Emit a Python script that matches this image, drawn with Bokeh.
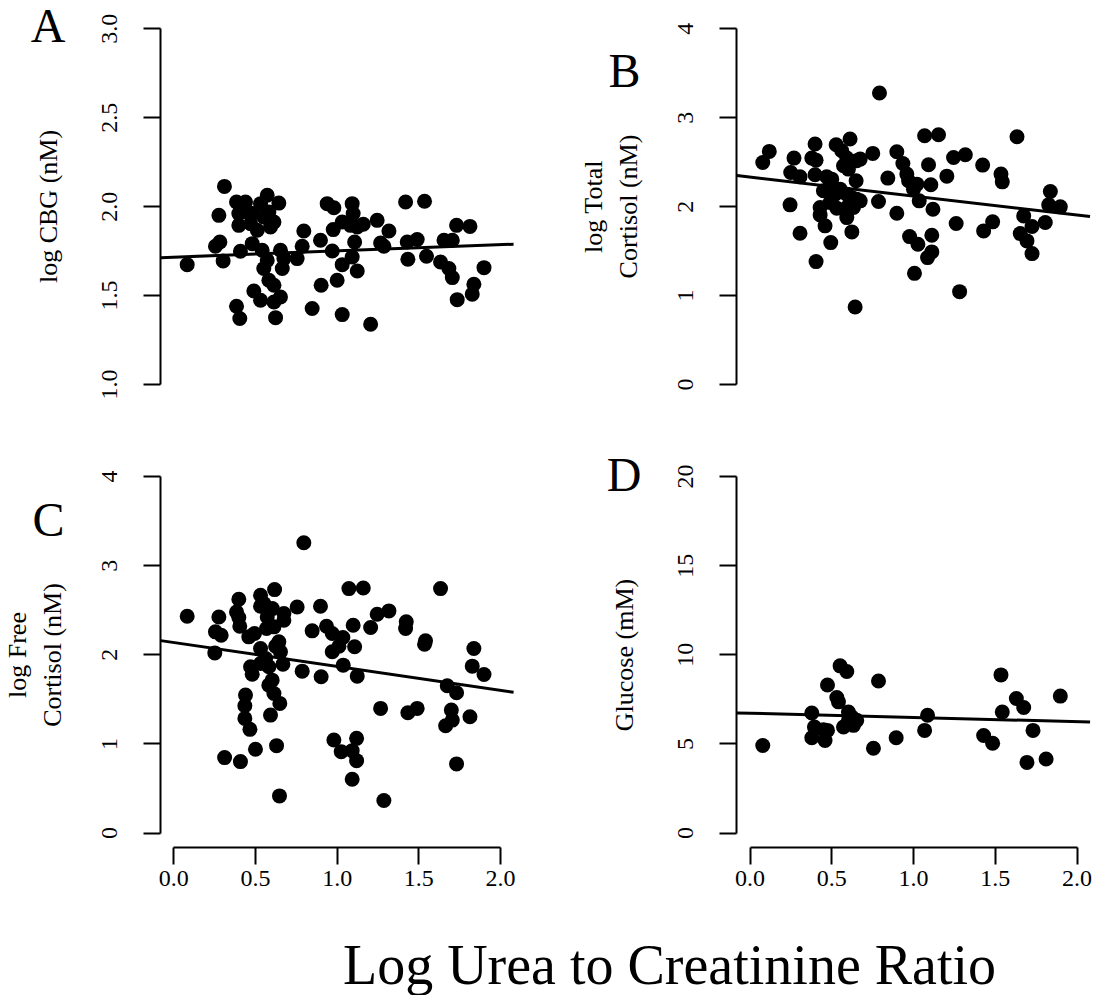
from bokeh.plotting import figure
from bokeh.models import Range1d, FixedTicker, Label, LinearAxis
from bokeh.embed import file_html
from bokeh.resources import INLINE

FONT = "Liberation Serif"

# ---------------- data ----------------
x_ticks = [0.0, 0.5, 1.0, 1.5, 2.0]
x_tick_labels = ["0.0", "0.5", "1.0", "1.5", "2.0"]
x_title = "Log Urea to Creatinine Ratio"

# Panel A: log CBG (nM)
a_x = [0.310, 0.276, 0.255, 0.282, 0.082, 0.302, 0.408, 0.384, 0.439, 0.398,
       0.449, 0.398, 0.470, 0.480, 0.572, 0.531, 0.643, 0.582, 0.613, 0.511,
       0.592, 0.551, 0.480, 0.541, 0.572, 0.551, 0.653, 0.674, 0.664, 0.582,
       0.613, 0.490, 0.531, 0.613, 0.653, 0.384, 0.404, 0.623, 0.796, 0.786,
       0.755, 0.898, 0.970, 0.847, 0.902, 1.000, 1.031, 1.031, 0.939, 0.980,
       1.092, 1.098, 1.031, 0.976, 1.082, 1.123, 1.160, 1.107, 1.092, 1.123,
       1.245, 1.317, 1.266, 1.286, 1.205, 1.419, 1.535, 1.429, 1.490, 1.433,
       1.547, 1.654, 1.705, 1.633, 1.684, 1.705, 1.731, 1.813, 1.735, 1.837,
       1.827, 1.899]
a_y = [2.114, 1.951, 1.777, 1.801, 1.674, 1.695, 1.749, 2.026, 2.026, 1.961,
       1.970, 1.895, 1.904, 1.961, 2.064, 2.017, 2.020, 1.970, 1.914, 1.867,
       1.886, 1.942, 1.792, 1.755, 1.698, 1.652, 1.755, 1.708, 1.652, 1.586,
       1.558, 1.526, 1.474, 1.464, 1.492, 1.440, 1.371, 1.376, 1.863, 1.777,
       1.708, 1.811, 1.751, 1.427, 1.558, 1.586, 1.674, 1.393, 2.017, 1.994,
       2.017, 1.961, 1.914, 1.871, 1.895, 1.886, 1.901, 1.801, 1.717, 1.638,
       1.923, 1.863, 1.796, 1.777, 1.339, 2.026, 2.030, 1.801, 1.815, 1.704,
       1.721, 1.811, 1.811, 1.689, 1.652, 1.601, 1.895, 1.889, 1.477, 1.564,
       1.508, 1.657]
a_fit = [1.716, 0.035]   # intercept, slope
a_ticks = [1.0, 1.5, 2.0, 2.5, 3.0]
a_tick_labels = ["1.0", "1.5", "2.0", "2.5", "3.0"]
a_label = "log CBG (nM)"

# Panel B: log Total Cortisol (nM)
b_x = [0.792, 0.078, 0.118, 0.269, 0.249, 0.306, 0.245, 0.306, 0.404, 0.398,
       0.378, 0.404, 0.398, 0.469, 0.500, 0.527, 0.561, 0.612, 0.592, 0.653,
       0.674, 0.572, 0.602, 0.649, 0.449, 0.490, 0.521, 0.551, 0.592, 0.623,
       0.653, 0.674, 0.429, 0.490, 0.531, 0.602, 0.633, 0.429, 0.592, 0.459,
       0.494, 0.623, 0.751, 0.786, 0.843, 0.898, 0.935, 0.959, 0.970, 1.021,
       1.000, 1.035, 0.898, 0.976, 1.027, 1.006, 1.068, 1.153, 1.092, 1.106,
       1.119, 1.112, 1.112, 1.086, 1.204, 1.245, 1.317, 1.261, 1.282, 1.423,
       1.429, 1.484, 1.535, 1.543, 1.633, 1.674, 1.725, 1.653, 1.694, 1.725,
       1.806, 1.837, 1.827, 1.898, 0.643]
b_y = [3.278, 2.497, 2.621, 2.546, 2.384, 2.336, 2.020, 1.701, 1.382, 2.704,
       2.546, 2.523, 2.358, 2.336, 2.309, 2.696, 2.629, 2.760, 2.546, 2.516,
       2.535, 2.460, 2.422, 2.291, 2.178, 2.234, 2.140, 2.197, 2.140, 2.103,
       2.084, 2.065, 1.990, 2.046, 1.983, 2.009, 1.990, 1.907, 1.877, 1.784,
       1.596, 1.716, 2.599, 2.058, 2.321, 2.617, 2.486, 2.366, 2.291, 2.253,
       2.197, 2.065, 1.926, 1.663, 1.577, 1.250, 2.798, 2.809, 2.471, 2.246,
       1.971, 1.678, 1.491, 1.427, 2.343, 2.553, 2.584, 1.810, 1.044, 2.467,
       1.727, 1.829, 2.366, 2.279, 2.786, 1.896, 1.776, 1.697, 1.615, 1.472,
       1.821, 2.170, 2.020, 1.998, 0.871]
b_fit = [2.332, -0.213]
b_ticks = [0, 1, 2, 3, 4]
b_tick_labels = ["0", "1", "2", "3", "4"]
b_label = "log Total\nCortisol (nM)"

# Panel C: log Free Cortisol (nM)
c_x = [0.796, 0.082, 0.276, 0.255, 0.290, 0.251, 0.398, 0.384, 0.398, 0.404,
       0.459, 0.494, 0.531, 0.551, 0.531, 0.617, 0.572, 0.603, 0.568, 0.613,
       0.674, 0.674, 0.531, 0.643, 0.653, 0.623, 0.562, 0.531, 0.470, 0.480,
       0.582, 0.668, 0.602, 0.582, 0.613, 0.649, 0.439, 0.435, 0.435, 0.466,
       0.592, 0.500, 0.311, 0.408, 0.629, 0.647, 0.755, 0.898, 0.847, 0.935,
       0.970, 1.035, 1.011, 0.970, 1.107, 0.786, 0.902, 1.037, 1.123, 1.098,
       1.205, 1.245, 1.317, 1.072, 1.160, 1.423, 1.419, 1.541, 1.535, 1.633,
       1.266, 1.433, 1.490, 0.980, 1.025, 1.092, 1.119, 1.119, 1.092, 1.286,
       1.674, 1.731, 1.699, 1.705, 1.664, 1.813, 1.731, 1.837, 1.827, 1.899]
c_y = [3.257, 2.432, 2.424, 2.257, 2.219, 2.021, 2.622, 2.480, 2.417, 2.320,
       2.201, 2.238, 2.667, 2.574, 2.544, 2.731, 2.424, 2.518, 2.294, 2.313,
       2.462, 2.387, 2.070, 2.145, 2.033, 2.096, 1.958, 1.902, 1.865, 1.782,
       1.865, 1.894, 1.715, 1.659, 1.566, 1.454, 1.547, 1.428, 1.286, 1.163,
       1.323, 0.939, 0.846, 0.801, 0.980, 0.416, 2.536, 2.544, 2.268, 2.320,
       2.238, 2.193, 2.096, 2.033, 2.089, 1.816, 1.753, 1.883, 1.760, 2.331,
       2.305, 2.454, 2.492, 2.742, 2.749, 2.369, 2.294, 2.156, 2.118, 2.742,
       1.398, 1.349, 1.398, 1.043, 0.913, 0.924, 1.062, 0.812, 0.603, 0.364,
       1.652, 1.573, 1.379, 1.267, 1.204, 1.305, 0.775, 2.070, 1.872, 1.779]
c_fit = [2.137, -0.268]
c_ticks = [0, 1, 2, 3, 4]
c_tick_labels = ["0", "1", "2", "3", "4"]
c_label = "log Free\nCortisol (nM)"

# Panel D: Glucose (mM)
d_x = [0.078, 0.378, 0.394, 0.449, 0.474, 0.378, 0.459, 0.474, 0.551, 0.592,
       0.531, 0.541, 0.602, 0.623, 0.653, 0.572, 0.633, 0.602, 0.786, 0.755,
       0.894, 1.086, 1.068, 1.429, 1.484, 1.535, 1.543, 1.629, 1.674, 1.731,
       1.694, 1.811, 1.898]
d_y = [4.906, 6.736, 5.943, 5.792, 5.755, 5.340, 5.189, 8.302, 9.377, 9.057,
       7.604, 7.358, 6.792, 6.509, 6.321, 5.943, 6.038, 6.321, 8.528, 4.755,
       5.340, 6.604, 5.755, 5.472, 5.038, 8.868, 6.792, 7.547, 7.038, 5.755,
       3.962, 4.151, 7.679]
d_fit = [6.719, -0.237]
d_ticks = [0, 5, 10, 15, 20]
d_tick_labels = ["0", "5", "10", "15", "20"]
d_label = "Glucose (mM)"

# ---------------- page layout (pixels) ----------------
W, H = 1099, 995
COL_LEFT = (173.3, 500.0)     # pixel x of first / last x tick
COL_RIGHT = (749.5, 1076.5)
ROW_TOP = (28.3, 384.0)       # pixel y of top / bottom y tick
ROW_BOTTOM = (476.0, 832.5)

p = figure(width=W, height=H, x_range=Range1d(0, W), y_range=Range1d(H, 0),
           output_backend="svg", toolbar_location=None,
           x_axis_location=None, y_axis_location=None)
p.min_border = 0
p.min_border_left = 0
p.min_border_right = 0
p.min_border_top = 0
p.min_border_bottom = 0
p.outline_line_color = None
p.grid.visible = False
p.background_fill_color = "white"
p.border_fill_color = "white"


def pad(lo, hi):
    d = (hi - lo) * 0.04
    return lo - d, hi + d


def style_axis(ax):
    ax.axis_line_width = 2
    ax.axis_line_color = "black"
    ax.major_tick_line_width = 2
    ax.major_tick_line_color = "black"
    ax.major_tick_out = 17
    ax.major_tick_in = 0
    ax.minor_tick_line_color = None
    ax.major_label_text_font = FONT
    ax.major_label_text_font_size = "24px"
    ax.major_label_text_color = "black"
    ax.axis_label_text_font = FONT
    ax.axis_label_text_font_style = "normal"
    ax.axis_label_text_font_size = "26px"
    ax.axis_label_text_color = "black"


extra_x, extra_y = {}, {}
panels = []


def add_panel(name, xs, ys, fit, yticks, ylabels, ylab, letter, letter_xy,
              col, rowg, show_x):
    xt0, xt1 = x_ticks[0], x_ticks[-1]
    px0, px1 = col
    sx = (px1 - px0) / (xt1 - xt0)
    extra_x["x" + name] = Range1d(xt0 - px0 / sx, xt0 + (W - px0) / sx)
    yt0, yt1 = yticks[0], yticks[-1]
    ptop, pbot = rowg
    sy = (pbot - ptop) / (yt1 - yt0)
    extra_y["y" + name] = Range1d(yt0 - (H - pbot) / sy, yt1 + ptop / sy)
    panels.append((name, xs, ys, fit, yticks, ylabels, ylab, letter,
                   letter_xy, show_x))


add_panel("A", a_x, a_y, a_fit, a_ticks, a_tick_labels, a_label, "A",
          (47.5, 25), COL_LEFT, ROW_TOP, False)
add_panel("B", b_x, b_y, b_fit, b_ticks, b_tick_labels, b_label, "B",
          (624, 70), COL_RIGHT, ROW_TOP, False)
add_panel("C", c_x, c_y, c_fit, c_ticks, c_tick_labels, c_label, "C",
          (48, 519), COL_LEFT, ROW_BOTTOM, True)
add_panel("D", d_x, d_y, d_fit, d_ticks, d_tick_labels, d_label, "D",
          (623.5, 474), COL_RIGHT, ROW_BOTTOM, True)

p.extra_x_ranges = extra_x
p.extra_y_ranges = extra_y

for (name, xs, ys, fit, yticks, ylabels, ylab, letter, letter_xy,
     show_x) in panels:
    xr, yr = "x" + name, "y" + name
    xlo, xhi = pad(x_ticks[0], x_ticks[-1])
    ylo, yhi = pad(yticks[0], yticks[-1])

    ya = LinearAxis(x_range_name=xr, y_range_name=yr, fixed_location=xlo,
                    ticker=FixedTicker(ticks=yticks),
                    bounds=(yticks[0], yticks[-1]),
                    axis_label=ylab)
    style_axis(ya)
    ya.major_label_overrides = {t: s for t, s in zip(yticks, ylabels)}
    ya.major_label_orientation = "vertical"
    ya.major_label_standoff = 27
    ya.axis_label_standoff = 32 if "\n" in ylab else 36
    p.add_layout(ya, "left")

    if show_x:
        xa = LinearAxis(x_range_name=xr, y_range_name=yr, fixed_location=ylo,
                        ticker=FixedTicker(ticks=x_ticks),
                        bounds=(x_ticks[0], x_ticks[-1]))
        style_axis(xa)
        xa.major_label_overrides = {t: s for t, s in zip(x_ticks, x_tick_labels)}
        xa.major_label_standoff = 7
        p.add_layout(xa, "below")

    p.scatter(xs, ys, size=15, marker="circle", fill_color="black",
              line_color=None, x_range_name=xr, y_range_name=yr)
    p.line([xlo, xhi], [fit[0] + fit[1] * xlo, fit[0] + fit[1] * xhi],
           line_color="black", line_width=3, x_range_name=xr, y_range_name=yr)
    p.add_layout(Label(x=letter_xy[0], y=letter_xy[1], text=letter,
                       text_font=FONT, text_font_size="48px",
                       text_align="center", text_baseline="alphabetic",
                       text_color="black"))

p.add_layout(Label(x=669, y=964, text=x_title, text_font=FONT,
                   text_font_size="56px", text_align="center",
                   text_baseline="alphabetic", text_color="black"))

with open("out.html", "w") as f:
    f.write(file_html(p, INLINE))
